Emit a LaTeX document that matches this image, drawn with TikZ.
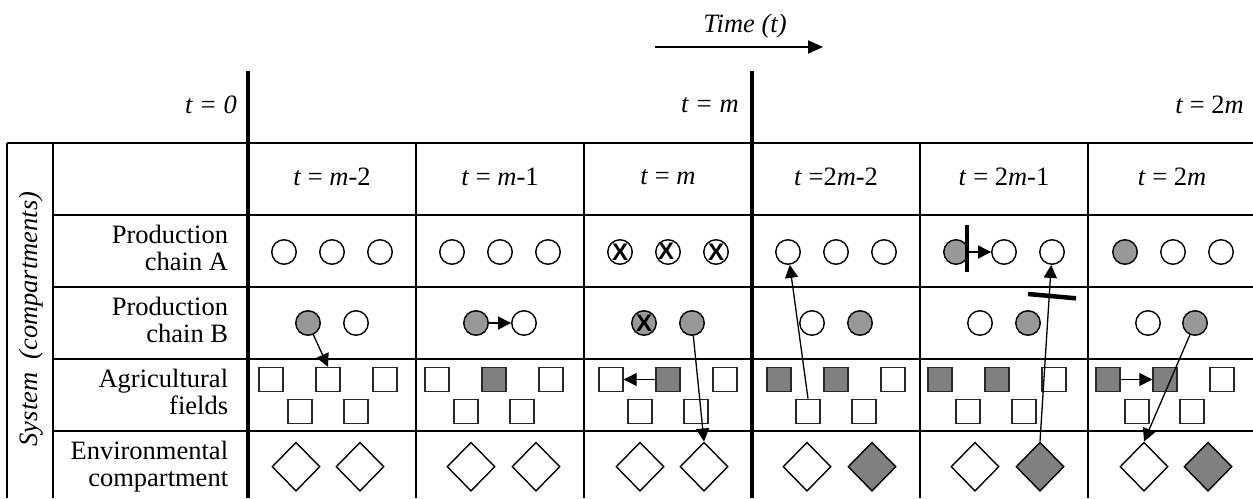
\documentclass[tikz,border=0pt]{standalone}
\usepackage{fontspec}
\setmainfont{Liberation Serif}
\newfontfamily\xfont{Liberation Sans}
\usetikzlibrary{shapes.geometric,arrows.meta}
\definecolor{lgray}{RGB}{153,153,153}
\definecolor{dgray}{RGB}{128,128,128}
\definecolor{sqline}{RGB}{40,40,40}
\begin{document}
\begin{tikzpicture}[x=1pt,y=-1pt,
  txt/.style={inner sep=0pt, font=\fontsize{26.5}{26.7}\selectfont},
  lbl/.style={txt, align=right, anchor=east},
  hdr/.style={txt, anchor=center},
  circ/.style={circle, draw=black, line width=1.4pt, minimum size=24.5pt, inner sep=0pt, fill=white},
  gcirc/.style={circ, fill=lgray},
  sq/.style={rectangle, draw=sqline, line width=1.4pt, minimum size=24pt, inner sep=0pt, fill=white},
  gsq/.style={sq, fill=dgray},
  dia/.style={diamond, draw=black, line width=1.4pt, minimum width=48pt, minimum height=49pt, inner sep=0pt, aspect=1, fill=white},
  gdia/.style={dia, fill=dgray},
  arr/.style={line width=1.3pt, -{Triangle[length=13pt,width=13pt]}},
  gridline/.style={line width=2pt},
  boldline/.style={line width=4pt},
  xmark/.style={inner sep=0pt, font=\xfont\bfseries\fontsize{24}{24}\selectfont},
  blocker/.style={line width=4.5pt},
]
\useasboundingbox (0,0) rectangle (1253,498);
\clip (0,0) rectangle (1253,498);

% time arrow
\node[txt, font=\fontsize{26.5}{26.7}\selectfont\itshape] (time) at (745,26) {Time (t)};
\coordinate (ts) at (655,47);
\coordinate (te) at (823,47);
\draw[line width=2pt, -{Triangle[length=15pt,width=13pt]}] (ts) -- (te);

% top labels
\node[txt, anchor=east] (t0) at (237,105) {\textit{t = 0}};
\node[txt, anchor=east] (tm) at (739,105) {\textit{t = m}};
\node[txt, anchor=east] (t2m) at (1244,105) {\textit{t} = 2\textit{m}};

% table grid
\draw[gridline] (7,143) -- (1253,143);
\foreach \yy in {215,287,359,431} \draw[gridline] (53,\yy) -- (1253,\yy);
\draw[gridline] (7,143) -- (7,498);
\draw[gridline] (53,143) -- (53,498);
\foreach \xx in {416,584,920,1088} \draw[line width=1.8pt] (\xx,143) -- (\xx,498);
\draw[boldline] (248,71) -- (248,498);
\draw[boldline] (752,71) -- (752,498);

% system label
\node[inner sep=0pt, font=\fontsize{26.5}{28}\selectfont\itshape, rotate=90] (sys) at (31,319) {System\hspace{0.5em}(compartments)};

% row labels
\node[lbl] (lA) at (228.3,247.6) {Production\\chain A};
\node[lbl] (lB) at (228.3,319.6) {Production\\chain B};
\node[lbl] (lF) at (228.3,391.6) {Agricultural\\fields};
\node[lbl] (lE) at (228.3,466.3) {Environmental\\compartment};

% header row
\node[hdr] (h1) at (332,177) {\textit{t} = \textit{m}-2};
\node[hdr] (h2) at (500,177) {\textit{t} = \textit{m}-1};
\node[hdr] (h3) at (668,177) {\textit{t} = \textit{m}};
\node[hdr] (h4) at (836,177) {\textit{t} =2\textit{m}-2};
\node[hdr] (h5) at (1004,177) {\textit{t} = 2\textit{m}-1};
\node[hdr] (h6) at (1172,177) {\textit{t} = 2\textit{m}};

% ---- column 1
\node[circ] (a1a) at (284,252) {};
\node[circ] (a1b) at (332,252) {};
\node[circ] (a1c) at (380,252) {};
\node[gcirc] (b1a) at (308,323) {};
\node[circ] (b1b) at (356,323) {};
\node[sq] (f1a) at (271,379.5) {};
\node[sq] (f1b) at (328,379.5) {};
\node[sq] (f1c) at (385,379.5) {};
\node[sq] (f1d) at (300,411.3) {};
\node[sq] (f1e) at (356,411.3) {};
\node[dia] (e1a) at (296,466.7) {};
\node[dia] (e1b) at (360,466.7) {};

% ---- column 2
\node[circ] (a2a) at (452,252) {};
\node[circ] (a2b) at (500,252) {};
\node[circ] (a2c) at (548,252) {};
\node[gcirc] (b2a) at (476,323) {};
\node[circ] (b2b) at (524,323) {};
\node[sq] (f2a) at (437,379.5) {};
\node[gsq] (f2b) at (494,379.5) {};
\node[sq] (f2c) at (551,379.5) {};
\node[sq] (f2d) at (466,411.3) {};
\node[sq] (f2e) at (522,411.3) {};
\node[dia] (e2a) at (471,466.7) {};
\node[dia] (e2b) at (536,466.7) {};

% ---- column 3
\node[circ] (a3a) at (620,252) {};
\node[circ] (a3b) at (668,252) {};
\node[circ] (a3c) at (716,252) {};
\node[xmark] (x3a) at (a3a) {X};
\node[xmark] (x3b) at (666,251) {X};
\node[xmark] (x3c) at (a3c) {X};
\node[gcirc] (b3a) at (644,323) {};
\node[xmark] (x3d) at (b3a) {X};
\node[gcirc] (b3b) at (692,323) {};
\node[sq] (f3a) at (611,379.5) {};
\node[gsq] (f3b) at (668,379.5) {};
\node[sq] (f3c) at (725,379.5) {};
\node[sq] (f3d) at (640,411.3) {};
\node[sq] (f3e) at (696,411.3) {};
\node[dia] (e3a) at (640,466.7) {};
\node[dia] (e3b) at (704,466.7) {};

% ---- column 4
\node[circ] (a4a) at (788,252) {};
\node[circ] (a4b) at (836,252) {};
\node[circ] (a4c) at (884,252) {};
\node[circ] (b4a) at (812,323) {};
\node[gcirc] (b4b) at (860,323) {};
\node[gsq] (f4a) at (779,379.5) {};
\node[gsq] (f4b) at (836,379.5) {};
\node[sq] (f4c) at (893,379.5) {};
\node[sq] (f4d) at (808,411.3) {};
\node[sq] (f4e) at (864,411.3) {};
\node[dia] (e4a) at (807,466.7) {};
\node[gdia] (e4b) at (872,466.7) {};

% ---- column 5
\node[gcirc] (a5a) at (956,252) {};
\node[circ] (a5b) at (1004,252) {};
\node[circ] (a5c) at (1052,252) {};
\node[circ] (b5a) at (980,323) {};
\node[gcirc] (b5b) at (1028,323) {};
\node[gsq] (f5a) at (940,379.5) {};
\node[gsq] (f5b) at (997,379.5) {};
\node[sq] (f5c) at (1054,379.5) {};
\node[sq] (f5d) at (968,411.3) {};
\node[sq] (f5e) at (1024,411.3) {};
\node[dia] (e5a) at (975,466.7) {};
\node[gdia] (e5b) at (1040,466.7) {};

% ---- column 6
\node[gcirc] (a6a) at (1125,252) {};
\node[circ] (a6b) at (1173,252) {};
\node[circ] (a6c) at (1221,252) {};
\node[circ] (b6a) at (1148,323) {};
\node[gcirc] (b6b) at (1195,323) {};
\node[gsq] (f6a) at (1108,379.5) {};
\node[gsq] (f6b) at (1165,379.5) {};
\node[sq] (f6c) at (1222,379.5) {};
\node[sq] (f6d) at (1137,411.3) {};
\node[sq] (f6e) at (1192,411.3) {};
\node[dia] (e6a) at (1144,466.7) {};
\node[gdia] (e6b) at (1208,466.7) {};

% ---- connectors
\draw[arr] (b1a) -- (f1b.north);
\draw[arr] (b2a.east) -- (b2b.west);
\draw[arr] (f3b.west) -- (f3a.east);
\draw[arr] (b3b) -- (e3b.north);
\draw[arr] (f4d.north) -- (a4a);
\coordinate (bar5) at (967,252);
\coordinate (bar5t) at (967,225);
\coordinate (bar5b) at (967,272);
\draw[blocker] (bar5t) -- (bar5b);
\draw[arr] (bar5) -- (a5b.west);
\draw[arr] (e5b.north) -- (a5c);
\coordinate (blk1) at (1028,294);
\coordinate (blk2) at (1076,298.3);
\draw[blocker] (blk1) -- (blk2);
\draw[arr] (f6a.east) -- (f6b.west);
\draw[arr] (b6b) -- (e6a.north);
\end{tikzpicture}
\end{document}
